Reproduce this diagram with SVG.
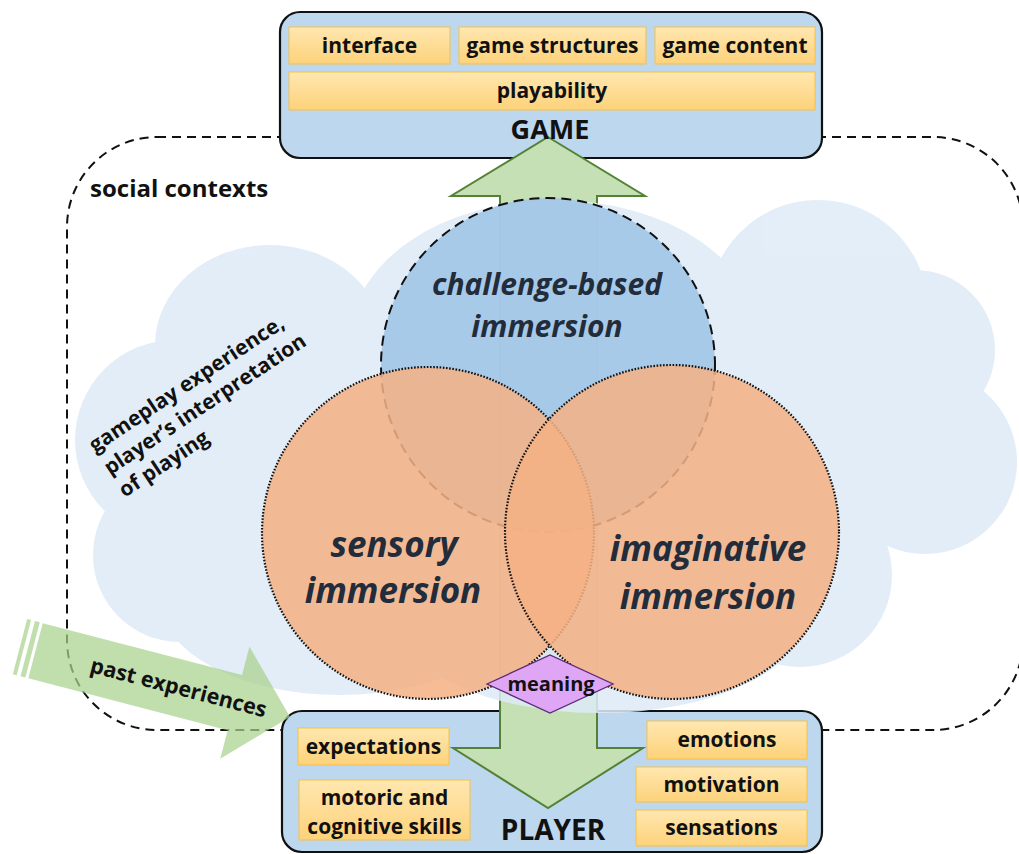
<svg xmlns="http://www.w3.org/2000/svg" width="1019" height="854" viewBox="0 0 1019 854">
<defs>
<linearGradient id="og" x1="0" y1="0" x2="0" y2="1">
<stop offset="0" stop-color="#ffe7b0"/>
<stop offset="1" stop-color="#fdd27a"/>
</linearGradient>
<style>
.t{font-family:"Open Sans","Noto Sans","Liberation Sans",sans-serif;font-weight:700;fill:#111;}
.c{text-anchor:middle;}
.box{fill:url(#og);stroke:#f3c14b;stroke-width:1;}
.panel{fill:#bdd7ee;stroke:#111;stroke-width:2.2;}
.ci{font-family:"Open Sans","Noto Sans","Liberation Sans",sans-serif;font-weight:700;font-style:italic;fill:#232c3b;text-anchor:middle;}
.dot{stroke:#111;stroke-width:2.2;stroke-dasharray:1.6 1.6;}
</style>
</defs>
<rect width="1019" height="854" fill="#fff"/>

<g id="social-contexts">
<rect x="67" y="137" width="956" height="593" rx="90" fill="none" stroke="#111" stroke-width="2" stroke-dasharray="9 6"/>
<text class="t" x="90" y="197" font-size="24">social contexts</text>
</g>

<g id="game">
<rect class="panel" x="280" y="12" width="542" height="146" rx="20"/>
<rect class="box" x="289" y="27" width="161" height="37"/>
<text class="t c" x="369.5" y="53" font-size="21">interface</text>
<rect class="box" x="459" y="27" width="187" height="37"/>
<text class="t c" x="552.5" y="53" font-size="21">game structures</text>
<rect class="box" x="655" y="27" width="160" height="37"/>
<text class="t c" x="735" y="53" font-size="21">game content</text>
<rect class="box" x="289" y="72" width="526" height="38"/>
<text class="t c" x="552" y="98" font-size="21">playability</text>
</g>

<g id="player">
<rect class="panel" x="282" y="711" width="540" height="141" rx="20"/>
<rect class="box" x="298" y="728" width="151" height="37"/>
<text class="t c" x="373.5" y="754" font-size="21">expectations</text>
<rect class="box" x="299" y="780" width="171" height="60"/>
<text class="t c" x="384.5" y="805" font-size="21">motoric and</text>
<text class="t c" x="384.5" y="834" font-size="21">cognitive skills</text>
<rect class="box" x="647" y="721" width="160" height="38"/>
<text class="t c" x="727" y="747" font-size="21">emotions</text>
<rect class="box" x="636" y="767" width="171" height="35"/>
<text class="t c" x="721.5" y="792" font-size="21">motivation</text>
<rect class="box" x="636" y="810" width="171" height="36"/>
<text class="t c" x="721.5" y="835" font-size="21">sensations</text>
</g>

<g id="connectors">
<path id="game-player-arrow" d="M548,137 L645,196 L597,196 L597,748 L643,748 L548,808 L453,748 L500,748 L500,196 L451,196 Z" fill="#c5e0b4" stroke="#548235" stroke-width="2" stroke-linejoin="miter"/>
</g>

<g id="game-label"><text class="t c" x="550" y="139" font-size="27">GAME</text></g>
<g id="player-label"><text class="t c" x="553" y="840" font-size="28">PLAYER</text></g>

<g id="gameplay-experience">
<g fill="#deebf7" opacity="0.86">
<circle cx="175" cy="440" r="100"/>
<ellipse cx="270" cy="345" rx="115" ry="100"/>
<ellipse cx="555" cy="340" rx="205" ry="140"/>
<circle cx="818" cy="310" r="110"/>
<circle cx="915" cy="350" r="80"/>
<circle cx="925" cy="462" r="92"/>
<circle cx="800" cy="575" r="92"/>
<ellipse cx="600" cy="616" rx="205" ry="97"/>
<ellipse cx="340" cy="600" rx="180" ry="95"/>
<circle cx="180" cy="555" r="87"/>
<rect x="170" y="300" width="710" height="300"/>
</g>
<g transform="translate(95,453) rotate(-33.5)">
<text class="t" x="0" y="0" font-size="21">gameplay experience,</text>
<text class="t" x="0" y="27" font-size="21">player’s interpretation</text>
<text class="t" x="0" y="54" font-size="21">of playing</text>
</g>
</g>

<g id="challenge-based-immersion">
<circle cx="548" cy="365" r="167" fill="#9dc3e6" fill-opacity="0.85" stroke="#111" stroke-width="2" stroke-dasharray="10 6"/>
</g>
<g id="sensory-immersion">
<circle class="dot" cx="428" cy="533" r="166" fill="#f4b183" fill-opacity="0.86"/>
</g>
<g id="imaginative-immersion">
<circle class="dot" cx="672" cy="532" r="167" fill="#f4b183" fill-opacity="0.86"/>
</g>
<g id="circle-labels">
<text class="ci" x="547" y="295" font-size="30">challenge-based</text>
<text class="ci" x="547" y="337" font-size="30">immersion</text>
<text class="ci" x="394" y="557" font-size="35">sensory</text>
<text class="ci" x="393" y="603" font-size="35">immersion</text>
<text class="ci" x="708" y="561" font-size="35">imaginative</text>
<text class="ci" x="708" y="609" font-size="35">immersion</text>
</g>

<g id="meaning">
<path d="M487,684 L550,655 L613,684 L550,713 Z" fill="#dea6f5" stroke="#5b2a78" stroke-width="1.3"/>
<text class="t c" x="551" y="691" font-size="20">meaning</text>
</g>

<g id="past-experiences">
<g transform="translate(290,717) rotate(14.6)" fill="#a9d18e" fill-opacity="0.72">
<path d="M0,0 L-57,-58 L-57,-28.5 L-263,-28.5 L-263,28.5 L-57,28.5 L-57,58 Z"/>
<rect x="-271" y="-28.5" width="5" height="57"/>
<rect x="-279" y="-28.5" width="4" height="57"/>
</g>
<text class="t" transform="translate(89,672) rotate(14.5)" font-size="21.5">past experiences</text>
</g>
</svg>
